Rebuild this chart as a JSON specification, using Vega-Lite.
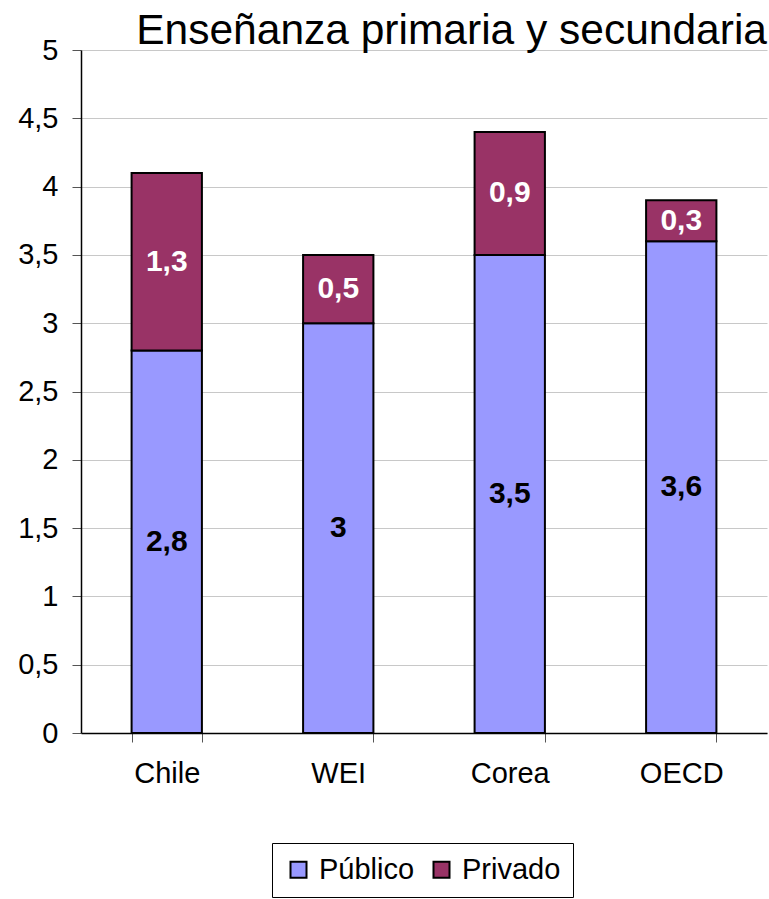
{
  "$schema": "https://vega.github.io/schema/vega-lite/v6.json",
  "autosize": {"type": "none"},
  "width": 686,
  "height": 683,
  "padding": {"left": 81, "top": 50, "right": 2, "bottom": 166},
  "background": "white",
  "config": {
    "locale": {"number": {"decimal": ",", "thousands": ".", "grouping": [3], "currency": ["", " €"]}},
    "font": "Liberation Sans",
    "view": {"stroke": null}
  },
  "title": {
    "text": "Enseñanza primaria y secundaria",
    "anchor": "end",
    "frame": "group",
    "fontSize": 42.5,
    "fontWeight": "normal",
    "font": "Liberation Sans",
    "color": "black",
    "baseline": "bottom",
    "offset": 0,
    "dy": 59
  },
  "data": {
    "values": [
      {"pais": "Chile", "tipo": "Público", "valor": 2.8},
      {"pais": "Chile", "tipo": "Privado", "valor": 1.3},
      {"pais": "WEI", "tipo": "Público", "valor": 3.0},
      {"pais": "WEI", "tipo": "Privado", "valor": 0.5},
      {"pais": "Corea", "tipo": "Público", "valor": 3.5},
      {"pais": "Corea", "tipo": "Privado", "valor": 0.9},
      {"pais": "OECD", "tipo": "Público", "valor": 3.6},
      {"pais": "OECD", "tipo": "Privado", "valor": 0.3}
    ]
  },
  "transform": [
    {"stack": "valor", "groupby": ["pais"], "sort": [{"field": "tipo", "order": "descending"}], "as": ["v0", "v1"]},
    {"calculate": "(datum.v0 + datum.v1) / 2", "as": "vmid"}
  ],
  "encoding": {
    "x": {
      "field": "pais",
      "type": "nominal",
      "sort": ["Chile", "WEI", "Corea", "OECD"],
      "scale": {"paddingInner": 0.59, "paddingOuter": 0.295},
      "axis": {
        "title": null,
        "labelAngle": 0,
        "labelFontSize": 29,
        "labelColor": "black",
        "labelPadding": 17,
        "tickBand": "extent",
        "tickSize": 9,
        "tickColor": "#555555",
        "tickWidth": 1,
        "domainColor": "black",
        "domainWidth": 1.5
      }
    }
  },
  "layer": [
    {
      "mark": {"type": "bar", "stroke": "black", "strokeWidth": 2},
      "encoding": {
        "y": {
          "field": "v0",
          "type": "quantitative",
          "scale": {"domain": [0, 5]},
          "axis": {
            "title": null,
            "values": [0, 0.5, 1, 1.5, 2, 2.5, 3, 3.5, 4, 4.5, 5],
            "format": "~g",
            "labelFontSize": 29,
            "labelColor": "black",
            "labelPadding": 14,
            "tickSize": 9,
            "tickColor": "#555555",
            "domainColor": "black",
            "domainWidth": 1.5,
            "grid": true,
            "gridColor": "#C8C8C8",
            "gridWidth": 1
          }
        },
        "y2": {"field": "v1"},
        "fill": {
          "field": "tipo",
          "type": "nominal",
          "scale": {"domain": ["Público", "Privado"], "range": ["#9999FF", "#993366"]},
          "legend": {
            "title": null,
            "orient": "none",
            "legendX": 191,
            "legendY": 793,
            "direction": "horizontal",
            "symbolType": "square",
            "symbolSize": 256,
            "symbolStrokeColor": "black",
            "symbolStrokeWidth": 2,
            "labelFontSize": 29,
            "labelColor": "black",
            "labelOffset": 6,
            "columnPadding": 12,
            "padding": 12,
            "strokeColor": "black",
            "fillColor": "white"
          }
        }
      }
    },
    {
      "mark": {"type": "text", "fontSize": 30, "fontWeight": "bold", "baseline": "middle", "align": "center"},
      "encoding": {
        "y": {"field": "vmid", "type": "quantitative"},
        "text": {"field": "valor", "type": "quantitative", "format": ".1~f"},
        "color": {
          "condition": {"test": "datum.tipo === 'Privado'", "value": "white"},
          "value": "black"
        }
      }
    }
  ]
}
